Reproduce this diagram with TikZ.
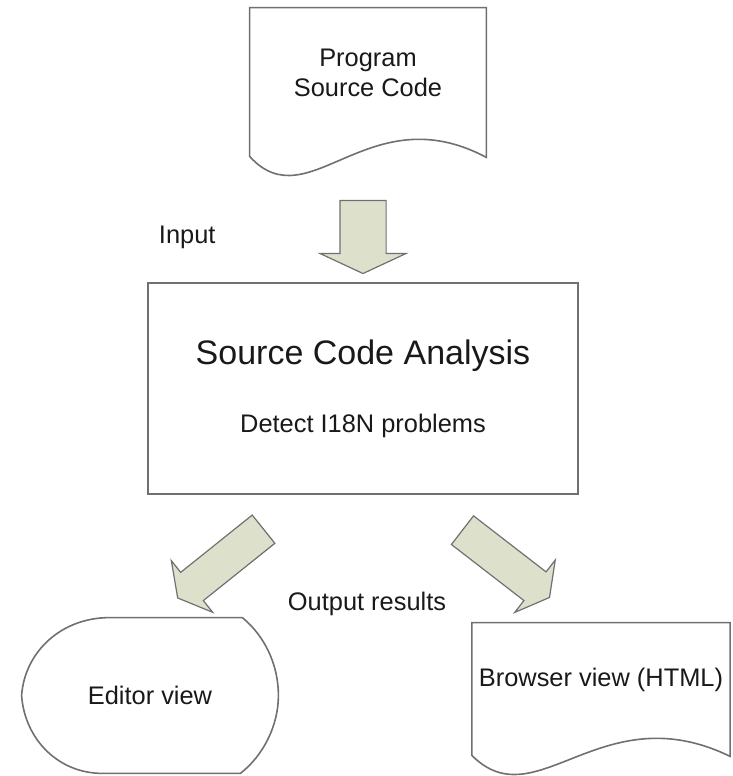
\documentclass[tikz,border=0pt]{standalone}
\usepackage{fontspec}
\setmainfont{Liberation Sans}
\usetikzlibrary{positioning,calc,shapes.arrows}
\definecolor{arrowfill}{RGB}{221,225,204}
\definecolor{edgegray}{RGB}{112,112,112}
\definecolor{inkblack}{RGB}{25,25,25}
\newcommand{\bodyfont}{\fontsize{12.7}{15}\selectfont}
\newcommand{\titlefont}{\fontsize{17}{20}\selectfont}
% outline of a document box with a wavy bottom edge
\newcommand{\docoutline}[1]{%
  \draw[outline] ($(#1.south west)+(0,18)$) -- (#1.north west) -- (#1.north east)
    -- ($(#1.south east)+(0,19)$)
    .. controls ($(#1.south west)!0.5!(#1.south east)+(0,-44)$)
    and ($(#1.south west)!0.25!(#1.south east)+(0,83)$)
    .. ($(#1.south west)+(0,18)$) -- cycle;}
\tikzset{
	outline/.style={
		draw=edgegray,
		line width=0.8pt,
	},
	docbox/.style={
		rectangle,
		minimum width=118pt,
		align=center,
		font=\bodyfont,
		text=inkblack,
	},
	procbox/.style={
		rectangle,
		outline,
		minimum width=215pt,
		minimum height=105.5pt,
		align=center,
		font=\bodyfont,
		text=inkblack,
	},
	termbox/.style={
		rectangle,
		minimum width=128pt,
		minimum height=77.5pt,
		font=\bodyfont,
		text=inkblack,
	},
	lbl/.style={
		font=\bodyfont,
		text=inkblack,
	},
	fatarrow/.style={
		single arrow,
		draw=edgegray,
		line width=0.6pt,
		fill=arrowfill,
		inner xsep=0pt,
	},
	bigarrow/.style={
		fatarrow,
		minimum height=36.5pt,
		inner ysep=11.25pt,
		single arrow head extend=10pt,
		single arrow tip angle=130,
	},
	slantarrow/.style={
		fatarrow,
		minimum height=55pt,
		inner ysep=8.75pt,
		single arrow head extend=7.5pt,
		single arrow tip angle=122,
	},
}

\begin{document}
\begin{tikzpicture}[x=0.5pt,y=-0.5pt]
	\useasboundingbox (0,0) rectangle (733,776);

	\node [docbox, minimum height=65pt] (src) at (368,73) {Program\\Source Code};
	\docoutline{src}

	\node [procbox] (ana) at (363,388.5)
	  {{\titlefont Source Code Analysis}\\[19pt]Detect I18N problems};

	\node [
	  bigarrow,
	  rotate=-90,
	  anchor=tip
	] (inarrow) at ($(ana.north)+(0,-8)$) {};
	\node [lbl] (inlabel) at ($(ana.north west)+(40,-45)$) {Input};

	\node [termbox] (editor) at (150,695.5) {Editor view};
	\draw[outline] ($(editor.north west)+(88,0)$) -- ($(editor.north east)+(-36,0)$)
	  .. controls ($(editor.north east)+(-13,19)$) and ($(editor.east)+(0,-30)$) .. (editor.east)
	  .. controls ($(editor.east)+(0,30)$) and ($(editor.south east)+(-15,-18)$) .. ($(editor.south east)+(-38,0)$)
	  -- ($(editor.south west)+(81,0)$)
	  .. controls ($(editor.south west)+(36,0)$) and ($(editor.west)+(3,43)$) .. (editor.west)
	  .. controls ($(editor.west)+(3,-43)$) and ($(editor.north west)+(39,0)$) .. ($(editor.north west)+(88,0)$)
	  -- cycle;

	\node [docbox, minimum width=128pt, minimum height=57pt] (browser) at (601,680) {Browser view (HTML)};
	\docoutline{browser}

	\node [
	  slantarrow,
	  rotate=218.7,
	  anchor=tail
	] (toeditor) at ($(ana.south)+(-99,34)$) {};
	\node [
	  slantarrow,
	  rotate=-37.7,
	  anchor=tail
	] (tobrowser) at ($(ana.south)+(99,35)$) {};
	\node [lbl] (outlabel) at ($(ana.south)+(4,109)$) {Output results};
\end{tikzpicture}
\end{document}
